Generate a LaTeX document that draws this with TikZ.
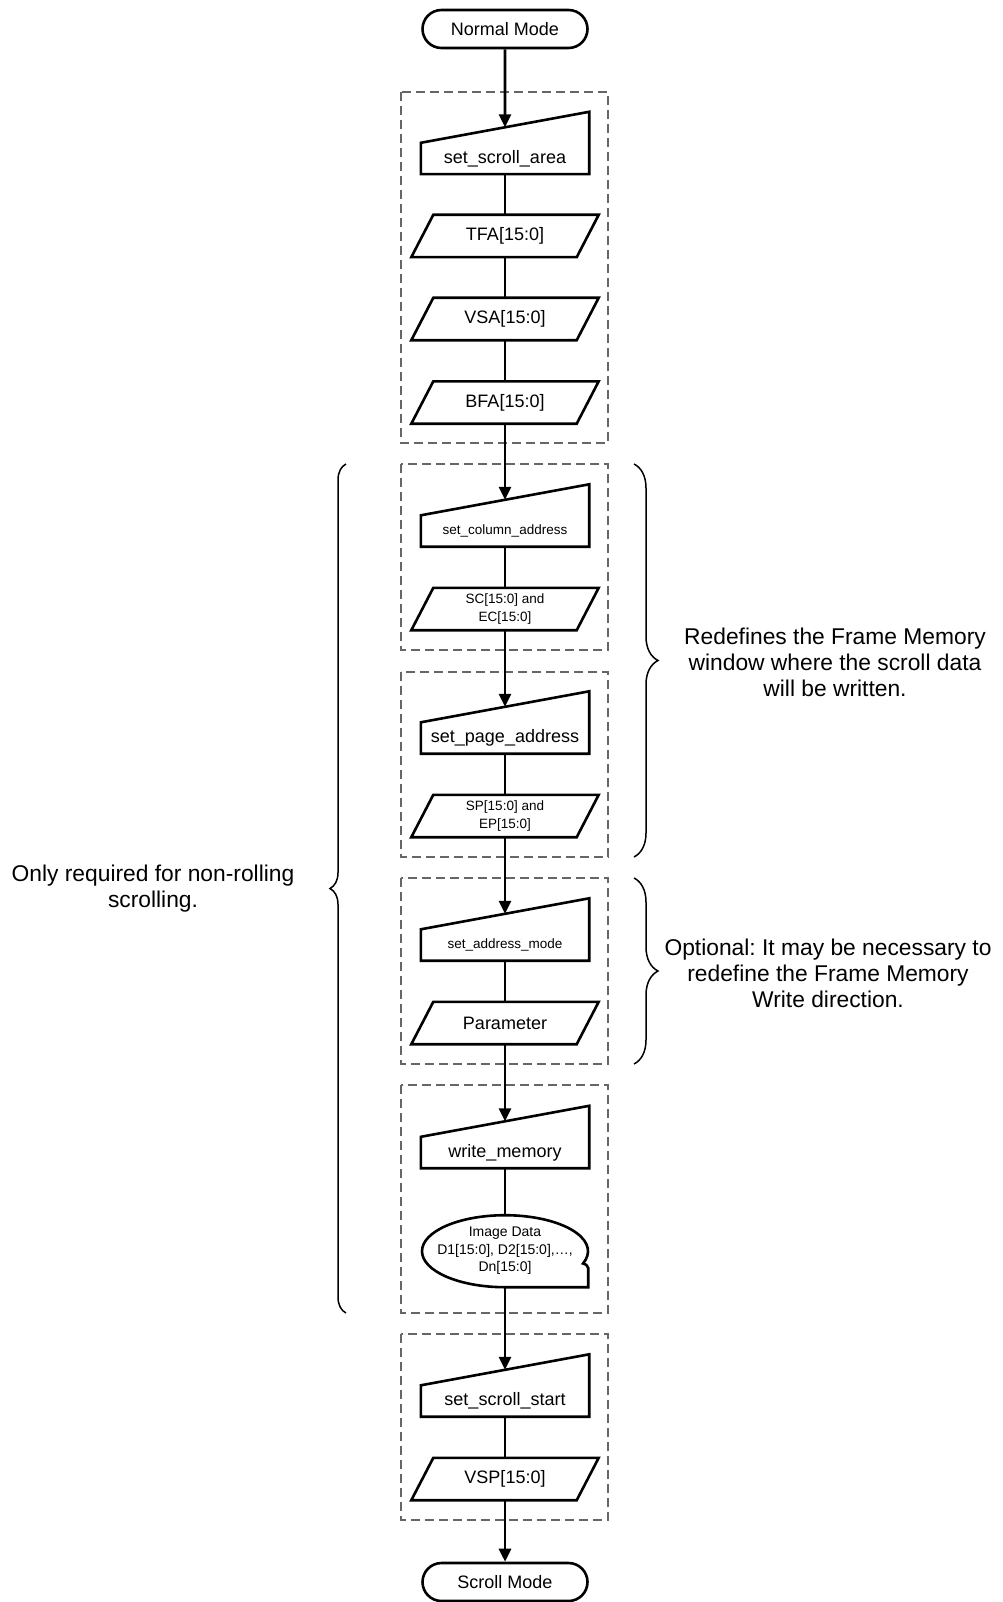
\documentclass[tikz,border=0pt]{standalone}
\usepackage{fontspec}
\setmainfont{Liberation Sans}
\frenchspacing
\usetikzlibrary{arrows.meta,shapes.misc,decorations.pathreplacing}
\tikzset{
  termbox/.style={rounded rectangle,draw,line width=2.6pt,minimum width=165pt,minimum height=38pt,inner sep=0pt,font=\fontsize{18}{21}\selectfont},
  inbox/.style={rectangle,minimum width=168pt,minimum height=31pt,inner sep=0pt,font=\fontsize{18}{21}\selectfont},
  inboxsmall/.style={inbox,font=\fontsize{13.5}{16}\selectfont},
  parbox/.style={rectangle,minimum width=187pt,minimum height=42pt,inner sep=0pt,align=center,font=\fontsize{18}{21}\selectfont},
  parboxsmall/.style={parbox,font=\fontsize{13.5}{18}\selectfont},
  datbox/.style={rectangle,minimum width=166pt,minimum height=72pt,inner sep=0pt,align=center,font=\fontsize{14}{17.5}\selectfont},
  shapeline/.style={line width=2.6pt,line join=miter},
  flowline/.style={line width=2.9pt},
  flowarr/.style={flowline,-{Triangle[length=13pt,width=12pt]}},
  groupbox/.style={draw=black!60,line width=1.3pt,dash pattern=on 9pt off 5pt},
  bracel/.style={decorate,decoration={brace,amplitude=16pt},line width=1.5pt},
  bracer/.style={decorate,decoration={brace,amplitude=24pt},line width=1.5pt},
  sidetext/.style={align=center,font=\fontsize{22.8}{26}\selectfont}
}
\newcommand{\manin}[1]{\draw[shapeline] (#1.south west) -- (#1.north west) -- ([yshift=31pt]#1.north east) -- (#1.south east) -- cycle;}
\newcommand{\parout}[1]{\draw[shapeline] (#1.south west) -- ([xshift=22pt]#1.north west) -- (#1.north east) -- ([xshift=-22pt]#1.south east) -- cycle;}
\begin{document}
\begin{tikzpicture}[x=1pt,y=-1pt]
  \useasboundingbox (0,0) rectangle (1002,1602);

  % dashed groups
  \draw[groupbox] (401,92) rectangle (608,443);
  \draw[groupbox] (401,464) rectangle (608,650);
  \draw[groupbox] (401,672) rectangle (608,857);
  \draw[groupbox] (401,878) rectangle (608,1064);
  \draw[groupbox] (401,1085) rectangle (608,1313);
  \draw[groupbox] (401,1334) rectangle (608,1520);

  % flow
  \node[termbox] (nm) at (505,29) {Normal Mode};
  \node[inbox] (ssa) at (505,158.5) {set\_scroll\_area};
  \node[parbox] (tfa) at (505,236) {TFA[15:0]};
  \node[parbox] (vsa) at (505,319) {VSA[15:0]};
  \node[parbox] (bfa) at (505,402.5) {BFA[15:0]};
  \node[inboxsmall] (sca) at (505,531) {set\_column\_address};
  \node[parboxsmall] (scec) at (505,609) {SC[15:0] and\\EC[15:0]};
  \node[inbox] (spa) at (505,738) {set\_page\_address};
  \node[parboxsmall] (spep) at (505,816) {SP[15:0] and\\EP[15:0]};
  \node[inboxsmall] (sam) at (505,945) {set\_address\_mode};
  \node[parbox] (prm) at (505,1023) {Parameter};
  \node[inbox] (wm) at (505,1152.5) {write\_memory};
  \node[datbox] (img) at (505,1251) {Image Data\\D1[15:0], D2[15:0],…,\\Dn[15:0]};
  \node[inbox] (sss) at (505,1401) {set\_scroll\_start};
  \node[parbox] (vsp) at (505,1479) {VSP[15:0]};
  \node[termbox] (sm) at (505,1582) {Scroll Mode};

  \manin{ssa} \manin{sca} \manin{spa} \manin{sam} \manin{wm} \manin{sss}
  \parout{tfa} \parout{vsa} \parout{bfa} \parout{scec} \parout{spep} \parout{prm} \parout{vsp}
  \draw[shapeline] (img.south) arc[start angle=270,end angle=-20,x radius=83pt,y radius=36pt]
    .. controls +(4,1) and +(-1,-2) .. ([yshift=-17pt]img.east) -- (img.south east) -- cycle;

  \draw[flowarr] (nm) -- ([yshift=15.5pt]ssa.north);
  \draw[flowline] (ssa) -- (tfa);
  \draw[flowline] (tfa) -- (vsa);
  \draw[flowline] (vsa) -- (bfa);
  \draw[flowarr] (bfa) -- ([yshift=15.5pt]sca.north);
  \draw[flowline] (sca) -- (scec);
  \draw[flowarr] (scec) -- ([yshift=15.5pt]spa.north);
  \draw[flowline] (spa) -- (spep);
  \draw[flowarr] (spep) -- ([yshift=15.5pt]sam.north);
  \draw[flowline] (sam) -- (prm);
  \draw[flowarr] (prm) -- ([yshift=15.5pt]wm.north);
  \draw[flowline] (wm) -- (img);
  \draw[flowarr] (img) -- ([yshift=15.5pt]sss.north);
  \draw[flowline] (sss) -- (vsp);
  \draw[flowarr] (vsp) -- (sm);

  % braces and notes
  \draw[bracel] (346,1313) -- (346,464);
  \draw[bracer] (634,464) -- (634,857);
  \draw[bracer] (634,878) -- (634,1064);
  \node[sidetext] (lnote) at (153,889) {Only required for non-rolling\\scrolling.};
  \node[sidetext] (rnote1) at (835,662) {Redefines the Frame Memory\\window where the scroll data\\will be written.};
  \node[sidetext] (rnote2) at (828,973) {Optional: It may be necessary to\\redefine the Frame Memory\\Write direction.};
\end{tikzpicture}
\end{document}
